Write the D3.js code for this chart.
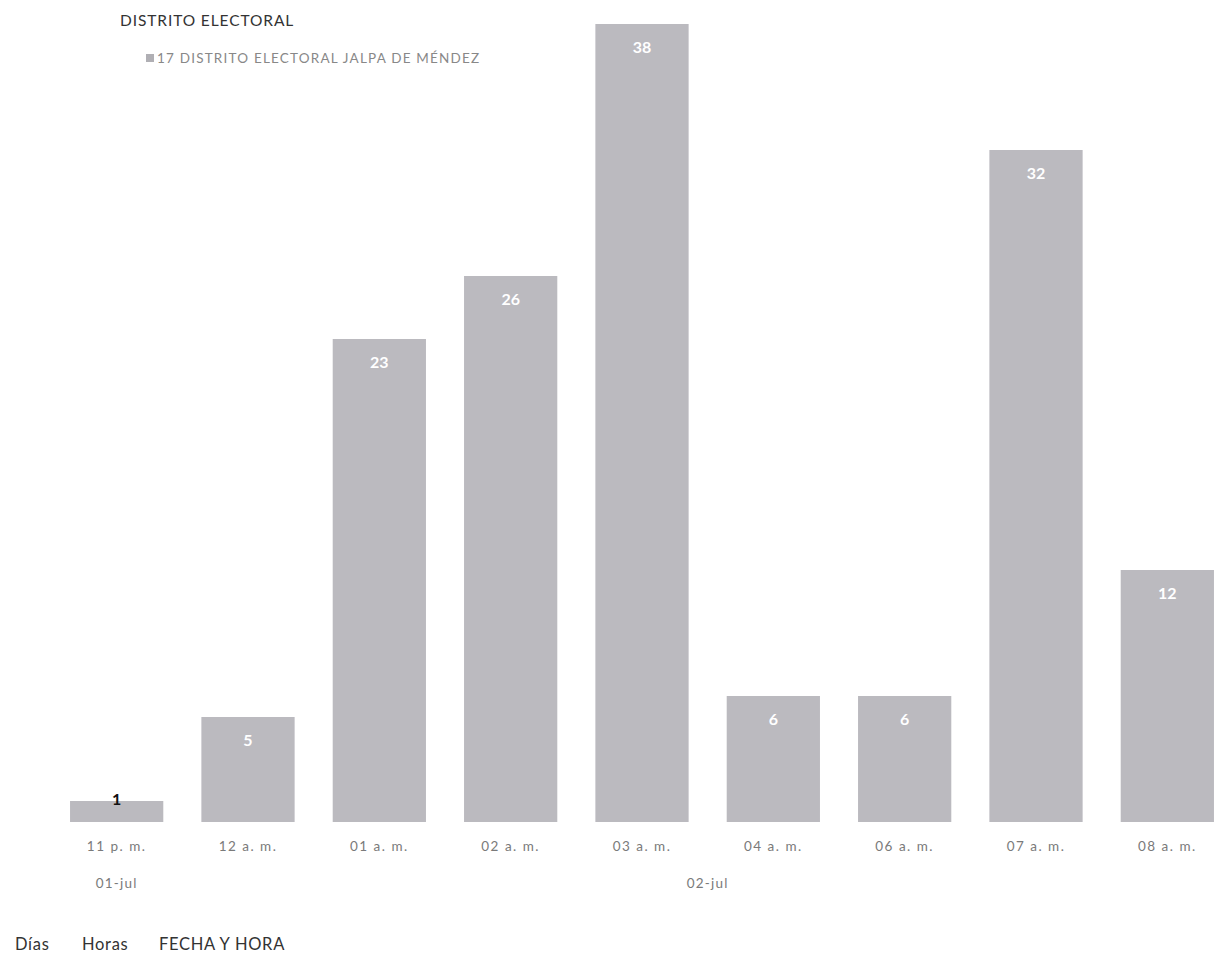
<!DOCTYPE html>
<html><head><meta charset="utf-8">
<script src="https://cdn.jsdelivr.net/npm/d3@7/dist/d3.min.js"></script>
<style>body{margin:0;background:#fff}svg{display:block}text{font-family:Lato,"Open Sans",sans-serif}</style>
</head><body><svg id="c" width="1219" height="958"></svg>
<script>
const categories = ["11 p. m.","12 a. m.","01 a. m.","02 a. m.","03 a. m.","04 a. m.","06 a. m.","07 a. m.","08 a. m."];
const days = ["01-jul","02-jul","02-jul","02-jul","02-jul","02-jul","02-jul","02-jul","02-jul"];
const values = [1,5,23,26,38,6,6,32,12];
const seriesName = "17 DISTRITO ELECTORAL JALPA DE MÉNDEZ";
const chartTitle = "DISTRITO ELECTORAL";
const fieldButtons = ["Días","Horas","FECHA Y HORA"];

const svg = d3.select("#c");
const x = d3.scaleBand().domain(categories).range([51,1233]).paddingInner(0.29).paddingOuter(0.145);
const y = d3.scaleLinear().domain([0,38]).range([822,24]);
const barColor = "#bbbabf";

svg.selectAll("rect.bar").data(values).join("rect").attr("class","bar")
  .attr("x",(d,i)=>x(categories[i])).attr("width",x.bandwidth())
  .attr("y",d=>y(d)).attr("height",d=>y(0)-y(d)).attr("fill",barColor);

svg.selectAll("text.val").data(values).join("text").attr("class","val")
  .attr("x",(d,i)=>x(categories[i])+x.bandwidth()/2)
  .attr("y",d=> d<3 ? y(d)+4 : y(d)+29)
  .attr("text-anchor","middle").attr("font-size",16).attr("font-weight","bold")
  .attr("fill",d=> d<3 ? "#111" : "#fff").text(d=>d);

const xAxis = svg.append("g").attr("transform","translate(0,822)")
  .call(d3.axisBottom(x).tickSize(0).tickPadding(19));
xAxis.select(".domain").remove();
xAxis.selectAll("text").attr("font-size",13.5).attr("fill","#7a7a7a")
  .attr("font-family","Lato,sans-serif").attr("letter-spacing","1.5px");

// day groups
const groups = d3.groups(categories.map((c,i)=>({c,day:days[i]})), d=>d.day);
groups.forEach(([day,items])=>{
  const x0 = x(items[0].c) - x.step()*x.paddingInner()/2;
  const x1 = x(items[items.length-1].c) + x.bandwidth() + x.step()*x.paddingInner()/2;
  svg.append("text").attr("x",(x0+x1)/2).attr("y",888).attr("text-anchor","middle")
    .attr("font-size",13.5).attr("letter-spacing","1.2px").attr("fill","#7a7a7a").text(day);
});

svg.append("text").attr("x",120).attr("y",26).attr("font-size",15.5).attr("letter-spacing","0.9px").attr("fill","#333").text(chartTitle);
svg.append("rect").attr("x",146).attr("y",54).attr("width",8).attr("height",8).attr("fill","#b0afb4");
svg.append("text").attr("x",157).attr("y",63).attr("font-size",13.5).attr("letter-spacing","1.2px").attr("fill","#888").text(seriesName);

const fx = [15,82,159];
fieldButtons.forEach((t,i)=>svg.append("text").attr("x",fx[i]).attr("y",950).attr("font-size",16.5).attr("letter-spacing","0.7px").attr("fill","#333").text(t));
</script></body></html>
